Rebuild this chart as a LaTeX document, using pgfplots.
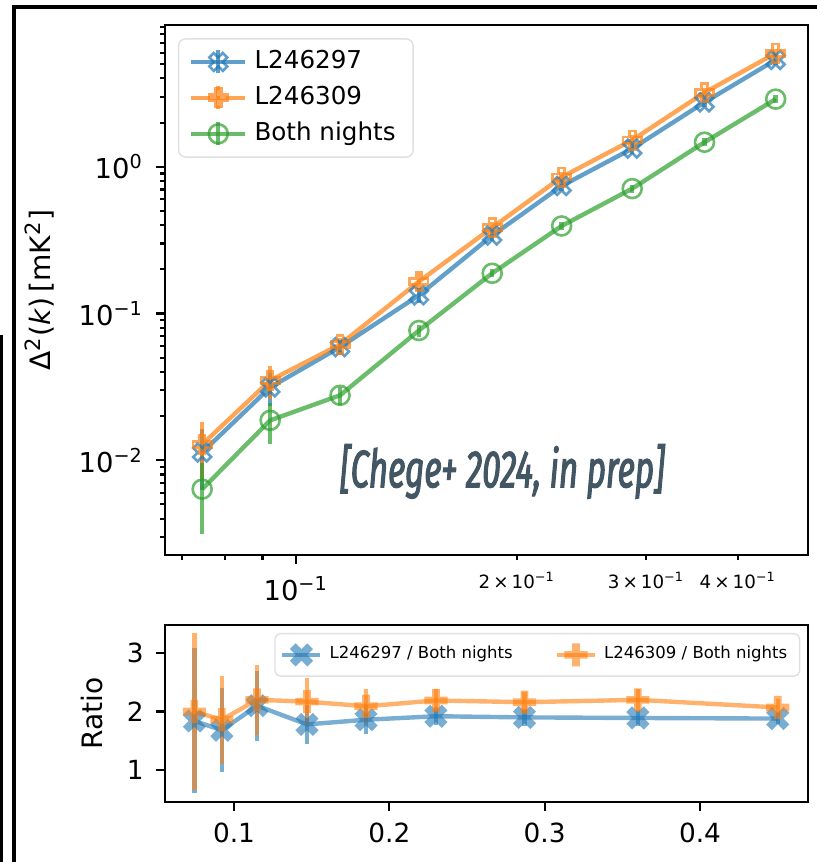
\documentclass[border=0pt]{standalone}
\usepackage{fontspec}
\setmainfont{DejaVu Sans}
\newfontfamily\annfont{Fira Sans}[FakeStretch=0.63, FakeBold=2]
\usepackage{pgfplots}
\pgfplotsset{compat=1.18}
\usepackage{pgfplotstable}

\definecolor{tblue}{HTML}{1F77B4}
\definecolor{torange}{HTML}{FF7F0E}
\definecolor{tgreen}{HTML}{2CA02C}
\definecolor{annc}{HTML}{435663}

% plus-shaped marks (matplotlib 'P' and 'X')
\pgfdeclareplotmark{Pshape}{%
  \pgfpathmoveto{\pgfpoint{-0.33\pgfplotmarksize}{\pgfplotmarksize}}%
  \pgfpathlineto{\pgfpoint{0.33\pgfplotmarksize}{\pgfplotmarksize}}%
  \pgfpathlineto{\pgfpoint{0.33\pgfplotmarksize}{0.33\pgfplotmarksize}}%
  \pgfpathlineto{\pgfpoint{\pgfplotmarksize}{0.33\pgfplotmarksize}}%
  \pgfpathlineto{\pgfpoint{\pgfplotmarksize}{-0.33\pgfplotmarksize}}%
  \pgfpathlineto{\pgfpoint{0.33\pgfplotmarksize}{-0.33\pgfplotmarksize}}%
  \pgfpathlineto{\pgfpoint{0.33\pgfplotmarksize}{-\pgfplotmarksize}}%
  \pgfpathlineto{\pgfpoint{-0.33\pgfplotmarksize}{-\pgfplotmarksize}}%
  \pgfpathlineto{\pgfpoint{-0.33\pgfplotmarksize}{-0.33\pgfplotmarksize}}%
  \pgfpathlineto{\pgfpoint{-\pgfplotmarksize}{-0.33\pgfplotmarksize}}%
  \pgfpathlineto{\pgfpoint{-\pgfplotmarksize}{0.33\pgfplotmarksize}}%
  \pgfpathlineto{\pgfpoint{-0.33\pgfplotmarksize}{0.33\pgfplotmarksize}}%
  \pgfpathclose}
\pgfdeclareplotmark{Phollow}{\pgfuseplotmark{Pshape}\pgfusepathqstroke}
\pgfdeclareplotmark{Pfilled}{\pgfuseplotmark{Pshape}\pgfusepathqfill}
\pgfdeclareplotmark{Xhollow}{\pgftransformrotate{45}\pgfuseplotmark{Pshape}\pgfusepathqstroke}
\pgfdeclareplotmark{Xfilled}{\pgftransformrotate{45}\pgfuseplotmark{Pshape}\pgfusepathqfill}

% k, L246297, err, L246309, err, both nights, err
\pgfplotstableread{
k      b       be      o       oe      g       ge
0.0745 0.0113  0.0050  0.0128  0.0054  0.00635 0.0032
0.0922 0.0314  0.0080  0.0350  0.0090  0.0187  0.0057
0.1148 0.0590  0.0070  0.0615  0.0070  0.0277  0.0040
0.147  0.133   0.016   0.165   0.020   0.0766  0.007
0.185  0.340   0.030   0.385   0.035   0.188   0.012
0.230  0.740   0.060   0.850   0.070   0.395   0.025
0.287  1.33    0.10    1.52    0.12    0.710   0.045
0.360  2.75    0.20    3.20    0.25    1.47    0.09
0.450  5.35    0.40    5.94    0.45    2.89    0.18
}\spec

\pgfplotstableread{
k      b     be    o     oe
0.0745 1.84  1.24  2.00  1.35
0.0922 1.68  0.72  1.86  0.75
0.1148 2.10  0.60  2.20  0.60
0.147  1.78  0.34  2.17  0.41
0.185  1.86  0.25  2.09  0.29
0.230  1.92  0.15  2.19  0.19
0.287  1.90  0.15  2.16  0.18
0.360  1.89  0.13  2.20  0.19
0.450  1.88  0.10  2.07  0.15
}\ratio

\begin{document}
\begin{tikzpicture}
\useasboundingbox (0,0) rectangle (8.17cm,8.62cm);

\pgfplotsset{
  every axis/.append style={
    scale only axis, width=6.43cm,
    tick align=outside, tick pos=left,
    axis line style={line width=0.6pt},
    tick style={black, line width=0.6pt},
    major tick length=0.09cm, minor tick length=0.05cm,
    tick label style={font=\fontsize{7.8}{9}\selectfont},
    label style={font=\fontsize{8}{9.5}\selectfont},
  },
  mainplot/.style={line width=1.25pt, opacity=0.7,
    mark options={solid, line width=0.75pt},
    error bars/y dir=both, error bars/y explicit,
    error bars/error mark=none,
    error bars/error bar style={line width=1.25pt}},
}

\begin{axis}[
  at={(1.65cm,3.07cm)}, anchor=south west, height=5.30cm,
  xmode=log, ymode=log,
  xmin=0.0663, xmax=0.498, ymin=0.00226, ymax=9.25,
  xtick={0.1}, xticklabels={10\textsuperscript{−1}},
  extra x ticks={0.2,0.3,0.4},
  extra x tick labels={2\,×\,10\textsuperscript{−1},3\,×\,10\textsuperscript{−1},4\,×\,10\textsuperscript{−1}},
  extra x tick style={major tick length=0.05cm,
    xticklabel style={font=\fontsize{5.2}{6}\selectfont}},
  minor xtick={0.07,0.08,0.09},
  ytick={0.01,0.1,1},
  yticklabels={10\textsuperscript{−2},10\textsuperscript{−1},10\textsuperscript{0}},
  minor ytick={0.003,0.004,0.005,0.006,0.007,0.008,0.009,
    0.02,0.03,0.04,0.05,0.06,0.07,0.08,0.09,
    0.2,0.3,0.4,0.5,0.6,0.7,0.8,0.9,2,3,4,5,6,7,8,9},
  ylabel={Δ\textsuperscript{2}(\textit{k})\,[mK\textsuperscript{2}]},
  legend cell align=left,
  legend style={at={(0.02,0.975)}, anchor=north west,
    draw=black!12, rounded corners=2pt, fill=white,
    font=\fontsize{7}{8}\selectfont, inner xsep=3pt, inner ysep=1.2pt,
    row sep=-0.5pt},
  legend image code/.code={
    \draw[#1, mark=none] (0cm,0cm) -- (0.54cm,0cm);
    \draw[#1, mark=none] (0.27cm,-0.115cm) -- (0.27cm,0.115cm);
    \draw[#1] plot coordinates {(0.27cm,0cm)};
  },
]
\addplot[tblue, mainplot, mark=Xhollow, mark size=2.7pt]
  table[x=k, y=b, y error=be]{\spec};
\addlegendentry{L246297}
\addplot[torange, mainplot, mark=Phollow, mark size=2.6pt]
  table[x=k, y=o, y error=oe]{\spec};
\addlegendentry{L246309}
\addplot[tgreen, mainplot, mark=o, mark size=2.7pt]
  table[x=k, y=g, y error=ge]{\spec};
\addlegendentry{Both nights}
\node[anchor=base, text=annc, font=\annfont\itshape\fontsize{15}{18}\selectfont]
  at (axis cs:0.191,0.00654) {[Chege+ 2024, in prep]};
\end{axis}

\begin{axis}[
  at={(1.65cm,0.60cm)}, anchor=south west, height=1.77cm,
  xmin=0.0556, xmax=0.4695, ymin=0.453, ymax=3.48,
  xtick={0.1,0.2,0.3,0.4}, xticklabels={0.1,0.2,0.3,0.4},
  ytick={1,2,3}, yticklabels={1,2,3},
  tick label style={font=\fontsize{7.5}{9}\selectfont},
  ylabel={Ratio},
  legend columns=2,
  legend style={at={(0.988,0.955)}, anchor=north east,
    draw=black!12, rounded corners=1.5pt, fill=white,
    font=\fontsize{4.7}{5.5}\selectfont, inner sep=1.5pt,
    /tikz/every even column/.append style={column sep=0.35cm}},
  legend image code/.code={
    \draw[#1, mark=none] (0cm,0cm) -- (0.38cm,0cm);
    \draw[#1] plot coordinates {(0.19cm,0cm)};
  },
]
\addplot[tblue, mainplot, opacity=0.6, mark=Xfilled, mark size=3.5pt,
  mark options={fill=tblue}]
  table[x=k, y=b, y error=be]{\ratio};
\addlegendentry{L246297 / Both nights}
\addplot[torange, mainplot, opacity=0.6, mark=Pfilled, mark size=3.3pt,
  mark options={fill=torange}]
  table[x=k, y=o, y error=oe]{\ratio};
\addlegendentry{L246309 / Both nights}
\end{axis}

\draw[line width=1.15pt] (0.14cm,0cm) -- (0.14cm,8.55cm) -- (8.17cm,8.55cm);
\draw[line width=0.7pt] (0.015cm,0cm) -- (0.015cm,5.27cm);
\end{tikzpicture}
\end{document}
